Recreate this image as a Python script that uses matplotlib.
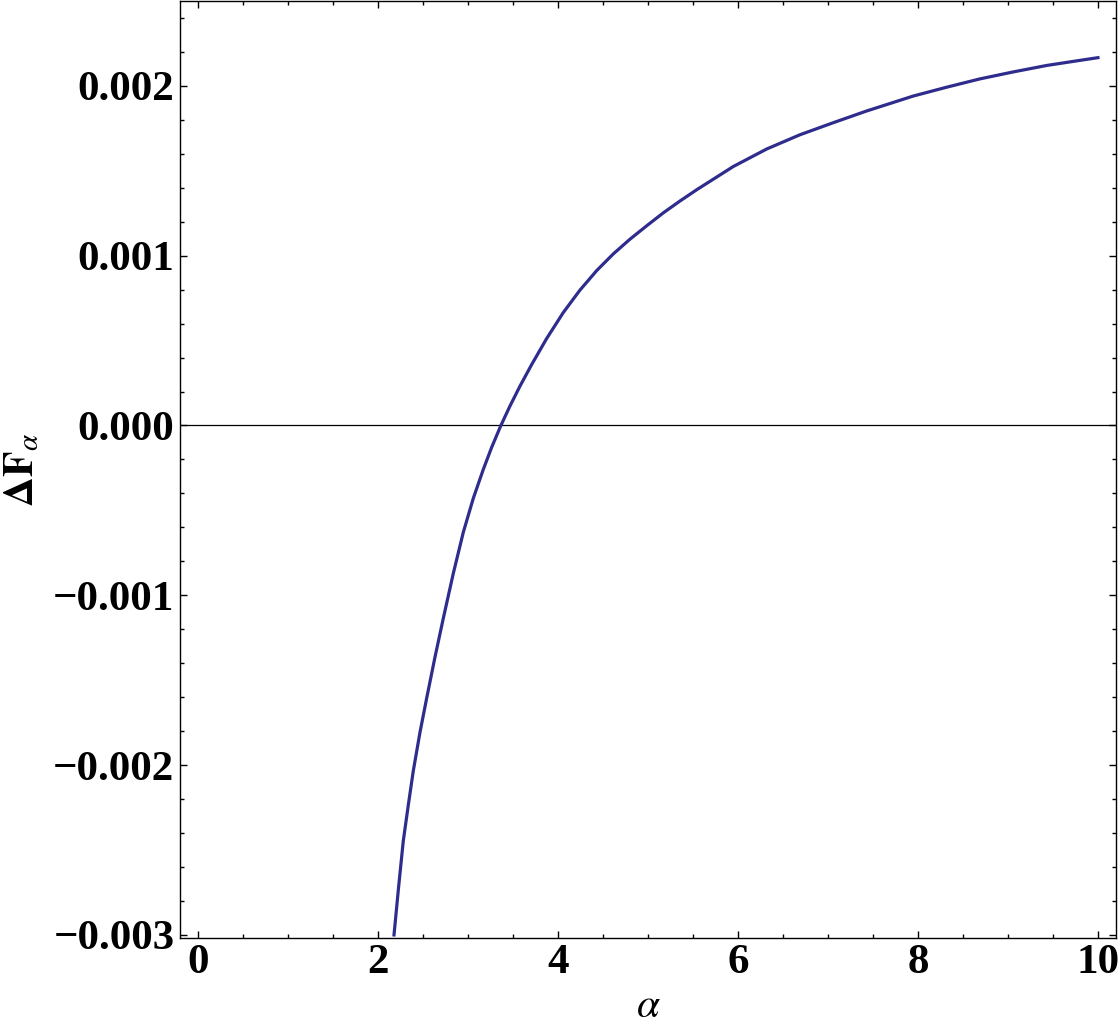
import numpy as np
import matplotlib
matplotlib.use("Agg")
import matplotlib.pyplot as plt
from matplotlib.ticker import MultipleLocator, FuncFormatter

plt.rcParams['mathtext.fontset'] = 'stix'
plt.rcParams['font.family'] = ['Liberation Serif', 'DejaVu Serif']

# curve
alpha = [2.178, 2.228, 2.281, 2.337, 2.392, 2.467, 2.541, 2.633, 2.726, 2.837,
         2.948, 3.059, 3.17, 3.263, 3.363, 3.467, 3.578, 3.708, 3.874, 4.059,
         4.244, 4.43, 4.614, 4.8, 4.986, 5.17, 5.356, 5.541, 5.948, 6.319,
         6.689, 7.059, 7.43, 7.948, 8.319, 8.689, 9.059, 9.43, 9.8, 10.0]
dF = [-0.003, -0.002724, -0.002447, -0.002235, -0.002035, -0.001806, -0.001606,
      -0.001365, -0.001135, -0.000871, -0.000629, -0.000429, -0.000259,
      -0.000129, -0.000003, 0.000115, 0.000232, 0.000359, 0.000512, 0.000665,
      0.000797, 0.000912, 0.00101, 0.001097, 0.001176, 0.001252, 0.001322,
      0.001388, 0.001525, 0.001628, 0.001712, 0.001783, 0.001852,
      0.00194, 0.001992, 0.002041, 0.002082, 0.002120, 0.002150, 0.002166]

fig = plt.figure(figsize=(11.2, 10.36), dpi=100)
ax = fig.add_axes([0.1607, 0.0946, 0.8357, 0.9045])

ax.axhline(0, color='black', lw=0.9, zorder=1)
ax.plot(alpha, dF, color='#2e2c8c', lw=2.3, zorder=2)

ax.set_xlim(-0.2, 10.2)
ax.set_ylim(-0.003018, 0.0025)

ax.xaxis.set_major_locator(MultipleLocator(2))
ax.xaxis.set_minor_locator(MultipleLocator(0.5))
ax.yaxis.set_major_locator(MultipleLocator(0.001))
ax.yaxis.set_minor_locator(MultipleLocator(0.0002))

ax.xaxis.set_major_formatter(FuncFormatter(lambda v, p: f"{v:.0f}"))
ax.yaxis.set_major_formatter(
    FuncFormatter(lambda v, p: ("\u2212" if v < -1e-12 else "") + f"{abs(v):.3f}"))

ax.tick_params(which='both', direction='in', top=True, right=True,
               width=1.0, color='black')
ax.tick_params(which='major', length=5, labelsize=31, pad=4)
ax.tick_params(which='minor', length=3)
for lab in ax.get_xticklabels() + ax.get_yticklabels():
    lab.set_fontweight('bold')

for s in ax.spines.values():
    s.set_linewidth(1.0)

ax.set_xlabel(r'$\alpha$', fontsize=30, labelpad=4)
ax.set_ylabel(r'$\mathbf{\Delta F}_{\alpha}$', fontsize=30, labelpad=8)

fig.savefig('out.png', dpi=100)
